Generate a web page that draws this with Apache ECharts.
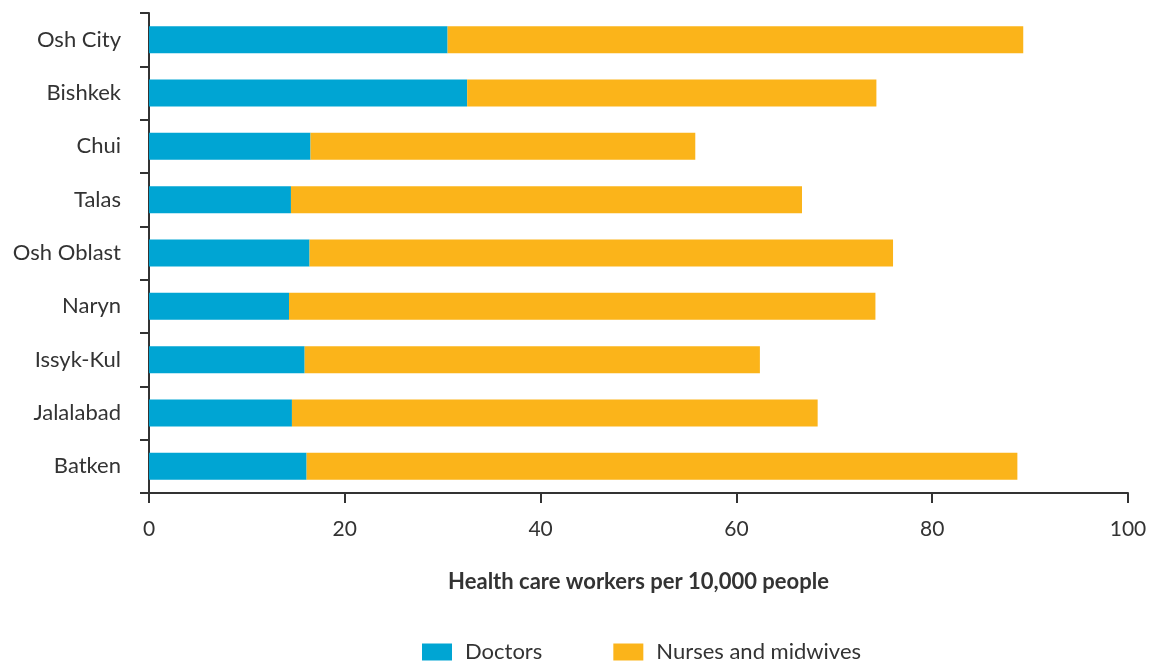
<!DOCTYPE html>
<html><head><meta charset="utf-8">
<script src="https://cdn.jsdelivr.net/npm/echarts@6/dist/echarts.min.js"></script>
<style>html,body{margin:0;padding:0;background:#fff}#c{width:1153px;height:664px}</style>
</head><body><div id="c"></div>
<script>
const categories = ["Osh City","Bishkek","Chui","Talas","Osh Oblast","Naryn","Issyk-Kul","Jalalabad","Batken"];
const doctors = [30.5, 32.5, 16.5, 14.5, 16.4, 14.3, 15.9, 14.6, 16.1];
const nurses = [58.8, 41.8, 39.3, 52.2, 59.6, 59.9, 46.5, 53.7, 72.6];
const xTicks = [0, 20, 40, 60, 80, 100];

const chart = echarts.init(document.getElementById('c'));
const font = 'Lato, "Open Sans", sans-serif';
chart.setOption({
  animation: false,
  textStyle: {fontFamily: font},
  grid: {left: 149, right: 25, top: 13, bottom: 171, containLabel: false},
  legend: {
    top: 636, left: 417, itemWidth: 30, itemHeight: 17, itemGap: 71,
    icon: 'rect',
    textStyle: {fontFamily: font, fontSize: 22, color: '#333', padding: [0,0,0,8]},
    data: ['Doctors', 'Nurses and midwives']
  },
  xAxis: {
    type: 'value', min: xTicks[0], max: xTicks[xTicks.length-1], interval: 20,
    name: 'Health care workers per 10,000 people', nameLocation: 'middle', nameGap: 78,
    nameTextStyle: {fontFamily: font, fontSize: 22, fontWeight: 'bold', color: '#333'},
    axisLine: {show: true, lineStyle: {color: '#333', width: 2}},
    axisTick: {show: true, length: 10, lineStyle: {color: '#333', width: 2}},
    axisLabel: {fontFamily: font, fontSize: 21, color: '#333', margin: 26},
    splitLine: {show: false}
  },
  yAxis: {
    type: 'category', data: categories, inverse: true,
    axisLine: {show: true, lineStyle: {color: '#333', width: 2}},
    axisTick: {show: true, length: 9, lineStyle: {color: '#333', width: 2}},
    axisLabel: {fontFamily: font, fontSize: 22, color: '#333', margin: 28},
    splitLine: {show: false}
  },
  series: [
    {name: 'Doctors', type: 'bar', stack: 'a', data: doctors, barWidth: 27,
     itemStyle: {color: '#00A5D3'}},
    {name: 'Nurses and midwives', type: 'bar', stack: 'a', data: nurses, barWidth: 27,
     itemStyle: {color: '#FBB41A'}}
  ]
});
</script></body></html>
